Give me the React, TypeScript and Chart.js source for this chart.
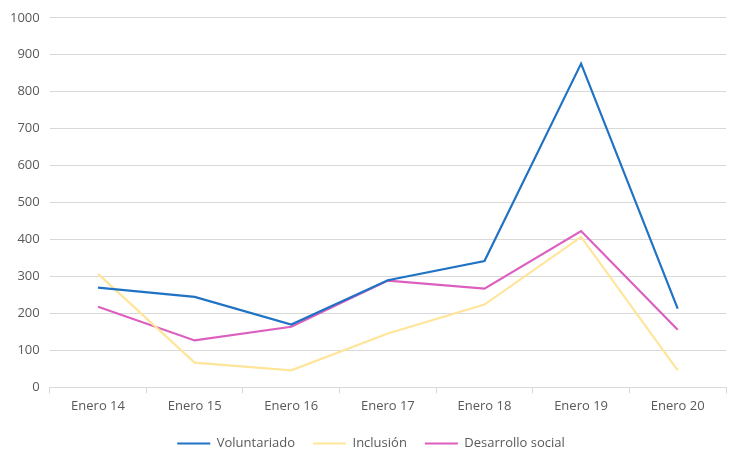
import React, { useEffect, useRef } from "react";
import { Chart, registerables } from "chart.js";

Chart.register(...registerables);

const categories = ["Enero 14", "Enero 15", "Enero 16", "Enero 17", "Enero 18", "Enero 19", "Enero 20"];
const voluntariado = [270, 245, 170, 290, 342, 876, 213];
const inclusion = [307, 67, 46, 146, 224, 407, 46];
const desarrolloSocial = [218, 127, 164, 289, 267, 423, 156];

const FONT = "'Open Sans', 'Liberation Sans', sans-serif";

const shiftLegend = {
  id: "shiftLegend",
  afterLayout(chart: any) {
    if (chart.legend) {
      chart.legend.left += 8;
      chart.legend.right += 8;
    }
  },
};

export default function App() {
  const ref = useRef<HTMLCanvasElement | null>(null);
  useEffect(() => {
    if (!ref.current) return;
    const chart = new Chart(ref.current, {
      type: "line",
      data: {
        labels: categories,
        datasets: [
          { label: "Voluntariado", data: voluntariado, borderColor: "#1f72c4", backgroundColor: "#1f72c4", borderWidth: 2.2, pointRadius: 0, tension: 0 },
          { label: "Inclusión", data: inclusion, borderColor: "#ffe59a", backgroundColor: "#ffe59a", borderWidth: 2.2, pointRadius: 0, tension: 0 },
          { label: "Desarrollo social", data: desarrolloSocial, borderColor: "#dc5fbf", backgroundColor: "#dc5fbf", borderWidth: 2.2, pointRadius: 0, tension: 0 },
        ],
      },
      plugins: [shiftLegend],
      options: {
        animation: false,
        responsive: false,
        maintainAspectRatio: false,
        layout: { padding: { top: 10, right: 8, left: 0, bottom: 0 } },
        plugins: {
          tooltip: { enabled: false },
          legend: {
            position: "bottom",
            labels: {
              color: "#595959",
              font: { family: FONT, size: 13 },
              boxWidth: 33,
              boxHeight: 2,
              padding: 18,
              generateLabels: (c: any) =>
                Chart.defaults.plugins.legend.labels.generateLabels(c).map((l: any) => ({ ...l, lineWidth: 0 })),
            },
          },
        },
        scales: {
          x: {
            offset: true,
            grid: { display: true, drawOnChartArea: false, drawTicks: true, tickLength: 6, offset: true, color: "#d9d9d9" },
            border: { display: true, color: "#d9d9d9" },
            ticks: { color: "#595959", font: { family: FONT, size: 13 }, padding: 5, maxRotation: 0 },
          },
          y: {
            min: 0,
            max: 1000,
            ticks: { stepSize: 100, color: "#595959", font: { family: FONT, size: 13 }, padding: 10, callback: (v: any) => String(v) },
            grid: { color: "#d9d9d9", drawTicks: false },
            border: { display: false },
          },
        },
      },
    });
    return () => chart.destroy();
  }, []);
  return (
    <div style={{ position: "absolute", left: 0, top: 0, width: 734, height: 460, background: "#fff" }}>
      <canvas ref={ref} width={734} height={460} style={{ width: 734, height: 460 }} />
    </div>
  );
}
